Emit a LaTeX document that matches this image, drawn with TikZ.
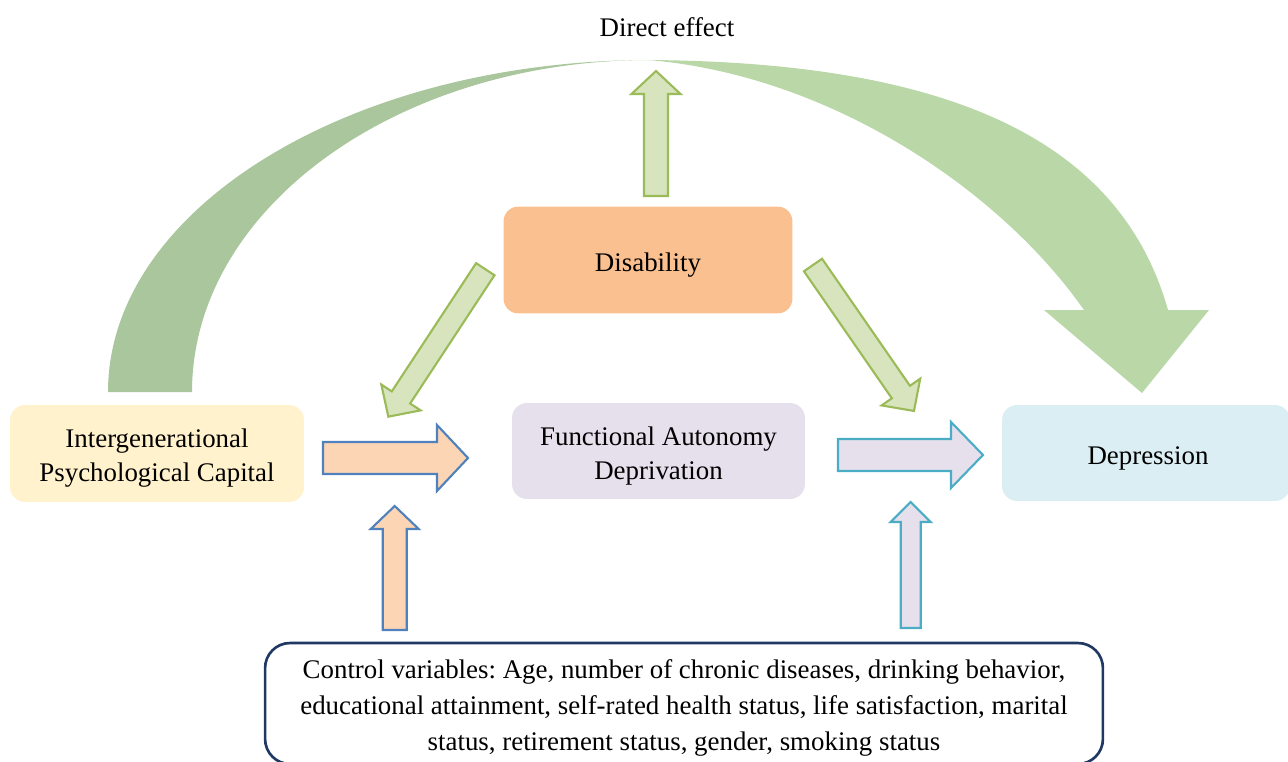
\documentclass[tikz,border=0pt]{standalone}
\usepackage{fontspec}
\setmainfont{Liberation Serif}
\frenchspacing
\usetikzlibrary{calc}
\definecolor{arcL}{HTML}{AAC69C}
\definecolor{arcR}{HTML}{B9D7A7}
\definecolor{gfill}{HTML}{D7E4BD}
\definecolor{gline}{HTML}{9BBB59}
\definecolor{disab}{HTML}{FAC090}
\definecolor{ipc}{HTML}{FFF2CC}
\definecolor{fad}{HTML}{E5E0EC}
\definecolor{depr}{HTML}{DBEEF4}
\definecolor{peach}{HTML}{FCD5B5}
\definecolor{blueline}{HTML}{4F81BD}
\definecolor{tealline}{HTML}{4BACC6}
\definecolor{navy}{HTML}{203864}
\newcommand{\blockarr}[8]{%
  \begin{scope}[shift={(#2,#3)}, rotate=#4]
    \path[#1] (0,-#6) -- ({#5-#8},-#6) -- ({#5-#8},-#7) -- (#5,0) -- ({#5-#8},#7) -- ({#5-#8},#6) -- (0,#6) -- cycle;
  \end{scope}}
\tikzset{
  box/.style={rectangle, rounded corners=0.3cm, inner sep=0pt},
  lbl/.style={align=center, inner sep=0pt, font=\fontsize{15.3}{19.3}\selectfont},
  greenarr/.style={fill=gfill, draw=gline, line width=1.2pt, line join=miter},
  bluearr/.style={fill=peach, draw=blueline, line width=1.2pt, line join=miter},
  tealarr/.style={fill=fad, draw=tealline, line width=1.2pt, line join=miter},
}
\begin{document}
\begin{tikzpicture}[x=0.02cm,y=-0.02cm]
\useasboundingbox (0,0) rectangle (1288,761);
\clip (0,0) rectangle (1288,761);
% big curved arrow
\fill[arcL] (108,392) .. controls (108,208.6) and (350.7,60) .. (650,60)
  .. controls (397,60) and (192,208.6) .. (192,392) -- cycle;
\fill[arcR] (648,60) .. controls (950,62) and (1120,140) .. (1168,310)
  -- (1209,310) -- (1142,393) -- (1044,310) -- (1084,310)
  .. controls (1000,190) and (830,75) .. (648,60) -- cycle;
\node[lbl] (direct) at (667,27) {Direct effect};
% boxes
\node[box, fill=ipc, minimum width=5.88cm, minimum height=1.94cm] (ipc) at (157,453.5) {};
\node[lbl] (ipct) at (157,458) {Intergenerational\\Psychological Capital};
\node[box, fill=fad, minimum width=5.86cm, minimum height=1.92cm] (fad) at (658.5,451) {};
\node[lbl] (fadt) at (658.5,456) {Functional Autonomy\\Deprivation};
\node[box, fill=depr, minimum width=5.76cm, minimum height=1.92cm] (dep) at (1146,453) {};
\node[lbl] (dept) at (1148,458) {Depression};
\node[box, fill=disab, minimum width=5.78cm, minimum height=2.14cm] (dis) at (648,260) {};
\node[lbl] (dist) at (648,265) {Disability};
\node[box, draw=navy, line width=1.5pt, rounded corners=0.5cm, fill=white,
  minimum width=16.76cm, minimum height=2.42cm] (ctrl) at (684,703.5) {};
\node[lbl, font=\fontsize{15.3}{20.3}\selectfont] (ctrlt) at (684,708)
  {Control variables: Age, number of chronic diseases, drinking behavior,\\
   educational attainment, self-rated health status, life satisfaction, marital\\
   status, retirement status, gender, smoking status};
% block arrows
\blockarr{greenarr}{656}{196}{90}{125}{12}{24.5}{23}
\blockarr{greenarr}{485.3}{269.2}{236.67}{176.5}{11}{23.5}{23}
\blockarr{greenarr}{813}{265}{-55.32}{177.5}{11}{23.5}{23}
\blockarr{bluearr}{323}{458}{0}{145}{16}{33}{31}
\blockarr{tealarr}{838}{455}{0}{145}{16}{33}{32}
\blockarr{bluearr}{394.7}{630}{90}{124}{12}{24}{23}
\blockarr{tealarr}{910.7}{628}{90}{126}{10}{20}{20}
\end{tikzpicture}
\end{document}
